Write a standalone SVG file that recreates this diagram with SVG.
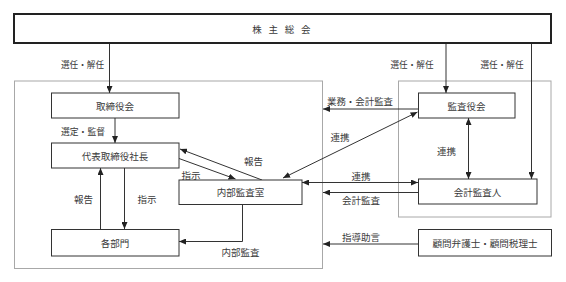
<svg xmlns="http://www.w3.org/2000/svg" width="566" height="282" viewBox="0 0 566 282">
<style>
text{font-family:"Noto Sans CJK JP","Noto Sans CJK SC",sans-serif;font-size:9.5px;fill:#3a3a3a;text-anchor:middle;dominant-baseline:central}
.box{fill:#fff;stroke:#333;stroke-width:1}
.grp{fill:none;stroke:#a8a8a8;stroke-width:1}
.top{fill:#fff;stroke:#222;stroke-width:2}
.c{fill:none;stroke:#333;stroke-width:1}
</style>
<defs>
<marker id="ah" viewBox="0 0 7 6" refX="7" refY="3" markerWidth="7" markerHeight="6" markerUnits="userSpaceOnUse" orient="auto-start-reverse"><path d="M0,0 L7,3 L0,6 z" fill="#222"/></marker>
</defs>
<rect class="grp" x="14.5" y="81" width="308" height="187.5"/>
<rect class="grp" x="398.5" y="81" width="152.5" height="136"/>
<g id="shareholders"><rect class="top" x="14" y="14" width="537" height="29"/><text x="282.5" y="29" style="letter-spacing:2.3px">株 主 総 会</text></g>
<g id="connectors">
<line class="c" x1="109.5" y1="44" x2="109.5" y2="93" marker-end="url(#ah)"/>
<line class="c" x1="446" y1="44" x2="446" y2="93" marker-end="url(#ah)"/>
<line class="c" x1="531.5" y1="44" x2="531.5" y2="179" marker-end="url(#ah)"/>
<line class="c" x1="115" y1="118" x2="115" y2="143" marker-end="url(#ah)"/>
<line class="c" x1="100.5" y1="229" x2="100.5" y2="168" marker-end="url(#ah)"/>
<line class="c" x1="124.5" y1="168" x2="124.5" y2="229" marker-end="url(#ah)"/>
<line class="c" x1="179" y1="158.5" x2="235.5" y2="179" marker-end="url(#ah)"/>
<line class="c" x1="262" y1="180" x2="180" y2="149" marker-end="url(#ah)"/>
<polyline class="c" points="242.5,204 242.5,241.5 179,241.5" marker-end="url(#ah)"/>
<line class="c" x1="418" y1="109" x2="323" y2="109" marker-end="url(#ah)"/>
<line class="c" x1="283" y1="178" x2="417.5" y2="112" marker-start="url(#ah)" marker-end="url(#ah)"/>
<line class="c" x1="468.5" y1="118" x2="468.5" y2="179" marker-start="url(#ah)" marker-end="url(#ah)"/>
<line class="c" x1="302" y1="182.5" x2="418" y2="182.5" marker-start="url(#ah)" marker-end="url(#ah)"/>
<line class="c" x1="418" y1="192.5" x2="323" y2="192.5" marker-end="url(#ah)"/>
<line class="c" x1="418" y1="244" x2="323" y2="244" marker-end="url(#ah)"/>
</g>
<g id="labels">
<text x="82.5" y="64" textLength="43" lengthAdjust="spacingAndGlyphs">選任・解任</text>
<text x="412" y="64" textLength="43" lengthAdjust="spacingAndGlyphs">選任・解任</text>
<text x="502" y="64" textLength="43" lengthAdjust="spacingAndGlyphs">選任・解任</text>
<text x="83" y="131" textLength="44" lengthAdjust="spacingAndGlyphs">選定・監督</text>
<text x="83.5" y="199">報告</text>
<text x="147" y="199">指示</text>
<text x="191" y="175">指示</text>
<text x="253.5" y="161">報告</text>
<text x="240.5" y="252">内部監査</text>
<text x="360" y="101" textLength="66" lengthAdjust="spacingAndGlyphs">業務・会計監査</text>
<text x="340" y="137">連携</text>
<text x="446.5" y="151">連携</text>
<text x="361" y="176">連携</text>
<text x="361" y="200">会計監査</text>
<text x="361" y="237">指導助言</text>
</g>
<g id="board"><rect class="box" x="51.5" y="93" width="127.5" height="25"/><text x="115" y="105.5">取締役会</text></g>
<g id="president"><rect class="box" x="51.5" y="143" width="127.5" height="25"/><text x="115" y="155.5">代表取締役社長</text></g>
<g id="departments"><rect class="box" x="51.5" y="229.5" width="127.5" height="26.5"/><text x="115" y="243">各部門</text></g>
<g id="internal-audit"><rect class="box" x="179" y="180" width="123" height="24.5"/><text x="240.5" y="192">内部監査室</text></g>
<g id="auditors"><rect class="box" x="418.5" y="93" width="96.5" height="25"/><text x="466.5" y="105.5">監査役会</text></g>
<g id="accounting-auditor"><rect class="box" x="418.5" y="179" width="118.5" height="25"/><text x="477.5" y="191.5">会計監査人</text></g>
<g id="advisors"><rect class="box" x="418.5" y="229.5" width="133" height="26.5"/><text x="485" y="242.5" textLength="105" lengthAdjust="spacingAndGlyphs">顧問弁護士・顧問税理士</text></g>
</svg>
